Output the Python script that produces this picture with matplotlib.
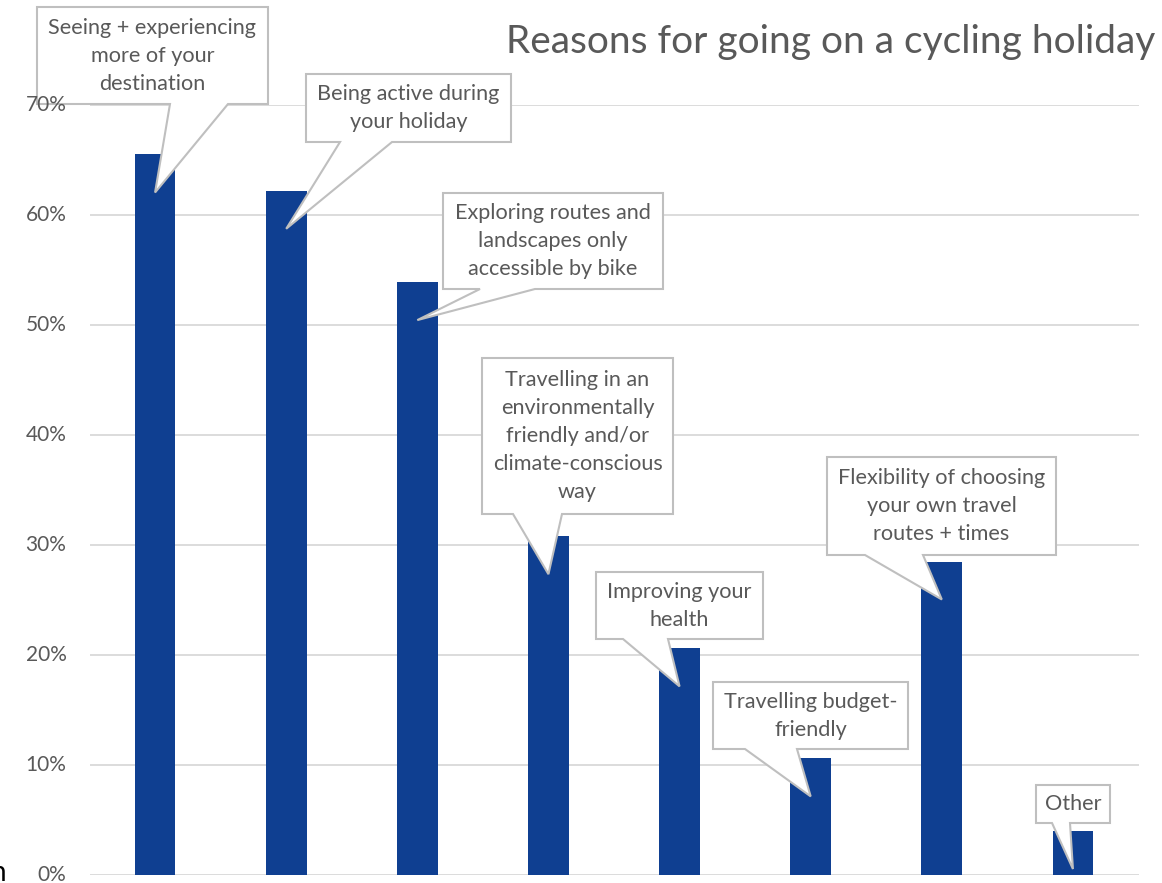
import numpy as np
import matplotlib.pyplot as plt
from matplotlib.patches import Polygon

# ============================================================
# Data
# ============================================================
reasons = [
    "Seeing + experiencing\nmore of your\ndestination",
    "Being active during\nyour holiday",
    "Exploring routes and\nlandscapes only\naccessible by bike",
    "Travelling in an\nenvironmentally\nfriendly and/or\nclimate-conscious\nway",
    "Improving your\nhealth",
    "Travelling budget-\nfriendly",
    "Flexibility of choosing\nyour own travel\nroutes + times",
    "Other",
]
share = [0.655, 0.622, 0.539, 0.308, 0.206, 0.106, 0.285, 0.040]
ticks = [0.0, 0.1, 0.2, 0.3, 0.4, 0.5, 0.6, 0.7]

title = "Reasons for going on a cycling holiday"

# callout boxes in pixels (top-left origin): x0, y0, x1, y1, wedge base left, wedge base right
callout_boxes = [
    (37, 7, 268, 104, 170, 228),
    (306, 74, 511, 142, 340, 392),
    (443, 193, 663, 289, 480, 535),
    (482, 358, 673, 514, 513, 562),
    (596, 572, 763, 639, 623, 668),
    (713, 682, 908, 749, 745, 797),
    (827, 457, 1056, 555, 865, 923),
    (1036, 785, 1110, 823, 1052, 1070),
]
tip_drop = 38  # px below bar top

# ============================================================
# Style
# ============================================================
W, H = 1162, 883
bar_color = "#0F3F91"
text_color = "#595959"
grid_color = "#D9D9D9"
edge_color = "#BFBFBF"
plt.rcParams['font.family'] = ['Lato', 'DejaVu Sans']

fig = plt.figure(figsize=(W / 100, H / 100), dpi=100)
ax = fig.add_axes([89.5 / W, 8 / H, 1049 / W, (875 - 105) / H])

x = np.arange(len(share))
ax.bar(x, share, width=0.31, color=bar_color, zorder=2)
ax.set_xlim(-0.5, len(share) - 0.5)
ax.set_ylim(0, 0.70)
ax.set_yticks(ticks)
ax.yaxis.grid(True, color=grid_color, linewidth=1.3)
ax.set_axisbelow(True)
ax.set_xticks([])
for s in ax.spines.values():
    s.set_visible(False)
ax.tick_params(axis='y', length=0, labelleft=False)

# tick labels drawn as texts so they sit above the callouts
for t in ticks:
    ax.text(-23 / 1049, t, f"{t:.0%}", transform=ax.get_yaxis_transform(),
            ha='right', va='center', fontsize=15, color=text_color,
            clip_on=False, zorder=6)

fig.text(831 / W, 1 - 42 / H, title, ha='center', va='center',
         fontsize=28, color=text_color)

# cropped character at left edge
fig.text(-9 / W, 1 - 873 / H, "n", ha='left', va='center', fontsize=20, color='black')

# ============================================================
# Callouts
# ============================================================
fig.canvas.draw()
for i, (label, (x0, y0, x1, y1, b1, b2)) in enumerate(zip(reasons, callout_boxes)):
    px, py = ax.transData.transform((x[i], share[i]))
    tip = (px, H - py + tip_drop)
    pts = [(x0, y0), (x1, y0), (x1, y1), (b2, y1), tip, (b1, y1), (x0, y1)]
    pts = [(p[0] / W, 1 - p[1] / H) for p in pts]
    poly = Polygon(pts, closed=True, facecolor='white', edgecolor=edge_color,
                   linewidth=1.5, transform=fig.transFigure, zorder=3, clip_on=False)
    ax.add_patch(poly)
    ax.text((x0 + x1) / 2 / W, 1 - (y0 + y1) / 2 / H, label, ha='center', va='center',
            fontsize=15.6, color=text_color, linespacing=1.5, zorder=4,
            transform=fig.transFigure, clip_on=False)

fig.savefig("out.png", dpi=100)
